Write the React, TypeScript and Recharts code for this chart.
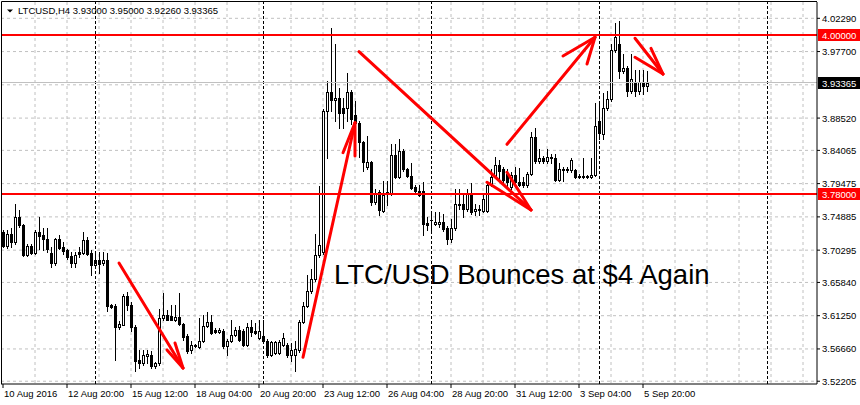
import React from "react";
import { ComposedChart, Bar, XAxis, YAxis, ReferenceLine, CartesianGrid } from "recharts";

// ---- data (LTCUSD H4 candles) ----
const opens = [
  3.7280, 3.7085, 3.7252, 3.7141, 3.7489, 3.7377, 3.6960, 3.7085, 3.6988, 3.7280,
  3.7238, 3.7182, 3.6988, 3.6849, 3.7182, 3.7071, 3.7030, 3.6946, 3.6849, 3.7002,
  3.6988, 3.7169, 3.6988, 3.6821, 3.6891, 3.6849, 3.6891, 3.6279, 3.6265, 3.5973,
  3.6001, 3.6390, 3.6279, 3.5973, 3.5514, 3.5472, 3.5569, 3.5583, 3.5430, 3.5472,
  3.6098, 3.6140, 3.6126, 3.6070, 3.6112, 3.6015, 3.5848, 3.5653, 3.5722, 3.5695,
  3.5778, 3.5987, 3.6042, 3.5931, 3.5904, 3.5917, 3.5708, 3.5778, 3.5862, 3.5931,
  3.5917, 3.5722, 3.5973, 3.5917, 3.5820, 3.5848, 3.5778, 3.5583, 3.5611, 3.5611,
  3.5722, 3.5722, 3.5583, 3.5583, 3.5653, 3.6042, 3.6265, 3.6459, 3.6626, 3.6960,
  3.7002, 3.8949, 3.9213, 3.9102, 3.9130, 3.8991, 3.8991, 3.9213, 3.8894, 3.8782,
  3.8518, 3.8170, 3.8240, 3.7697, 3.7837, 3.7572, 3.7837, 3.7809, 3.8337, 3.8045,
  3.8393, 3.8143, 3.8059, 3.7906, 3.7850, 3.7850, 3.7405, 3.7447, 3.7391, 3.7391,
  3.7419, 3.7336, 3.7182, 3.7336, 3.7670, 3.7670, 3.7600, 3.7809, 3.7572, 3.7600,
  3.7572, 3.7572, 3.7934, 3.8045, 3.8198, 3.8143, 3.8087, 3.7906, 3.8073, 3.7976,
  3.7976, 3.7934, 3.8087, 3.8588, 3.8254, 3.8296, 3.8254, 3.8309, 3.8296, 3.8004,
  3.8156, 3.8129, 3.8129, 3.8129, 3.8059, 3.8059, 3.8059, 3.8045, 3.8073, 3.8810,
  3.8629, 3.8991, 3.9116, 3.9798, 3.9881, 3.9506, 3.9547, 3.9227, 3.9353, 3.9227,
  3.9353, 3.9300,
];
const highs = [
  3.731, 3.731, 3.733, 3.767, 3.758, 3.739, 3.711, 3.712, 3.731, 3.749,
  3.733, 3.733, 3.707, 3.720, 3.724, 3.714, 3.705, 3.700, 3.700, 3.707,
  3.728, 3.721, 3.703, 3.700, 3.700, 3.700, 3.699, 3.629, 3.628, 3.605,
  3.643, 3.645, 3.631, 3.599, 3.565, 3.565, 3.565, 3.564, 3.549, 3.622,
  3.644, 3.620, 3.627, 3.627, 3.644, 3.603, 3.587, 3.578, 3.574, 3.610,
  3.613, 3.617, 3.614, 3.596, 3.596, 3.594, 3.580, 3.606, 3.597, 3.598,
  3.594, 3.602, 3.606, 3.603, 3.606, 3.606, 3.580, 3.578, 3.578, 3.579,
  3.589, 3.575, 3.575, 3.578, 3.606, 3.631, 3.668, 3.677, 3.725, 3.791,
  3.898, 3.937, 4.009, 3.988, 3.927, 3.913, 3.948, 3.924, 3.909, 3.881,
  3.854, 3.860, 3.826, 3.788, 3.786, 3.798, 3.798, 3.849, 3.849, 3.856,
  3.842, 3.816, 3.823, 3.793, 3.793, 3.797, 3.749, 3.756, 3.756, 3.756,
  3.753, 3.736, 3.746, 3.788, 3.788, 3.779, 3.788, 3.795, 3.767, 3.765,
  3.781, 3.795, 3.815, 3.832, 3.828, 3.817, 3.815, 3.811, 3.818, 3.816,
  3.804, 3.811, 3.866, 3.871, 3.843, 3.833, 3.842, 3.835, 3.836, 3.823,
  3.818, 3.818, 3.830, 3.815, 3.808, 3.830, 3.807, 3.830, 3.906, 3.909,
  3.920, 3.923, 3.988, 4.016, 4.019, 3.974, 3.957, 3.974, 3.951, 3.951,
  3.951, 3.9500,
];
const lows = [
  3.707, 3.706, 3.707, 3.711, 3.735, 3.695, 3.695, 3.697, 3.697, 3.704,
  3.703, 3.700, 3.680, 3.683, 3.704, 3.697, 3.691, 3.680, 3.680, 3.693,
  3.697, 3.696, 3.668, 3.680, 3.672, 3.683, 3.619, 3.623, 3.5514, 3.594,
  3.599, 3.620, 3.592, 3.5361, 3.540, 3.545, 3.547, 3.540, 3.540, 3.545,
  3.606, 3.606, 3.606, 3.605, 3.600, 3.579, 3.561, 3.561, 3.569, 3.568,
  3.576, 3.597, 3.587, 3.588, 3.589, 3.568, 3.5583, 3.576, 3.585, 3.578,
  3.571, 3.571, 3.585, 3.587, 3.580, 3.576, 3.556, 3.557, 3.560, 3.560,
  3.570, 3.556, 3.550, 3.5361, 3.563, 3.602, 3.624, 3.644, 3.660, 3.694,
  3.698, 3.830, 3.895, 3.881, 3.871, 3.871, 3.881, 3.877, 3.876, 3.832,
  3.812, 3.815, 3.765, 3.767, 3.7517, 3.755, 3.765, 3.779, 3.802, 3.802,
  3.812, 3.804, 3.787, 3.783, 3.777, 3.7238, 3.731, 3.728, 3.737, 3.735,
  3.730, 3.7113, 3.714, 3.731, 3.760, 3.749, 3.757, 3.753, 3.752, 3.752,
  3.755, 3.755, 3.791, 3.802, 3.802, 3.793, 3.790, 3.788, 3.790, 3.791,
  3.790, 3.790, 3.806, 3.823, 3.823, 3.823, 3.823, 3.823, 3.798, 3.798,
  3.798, 3.811, 3.811, 3.803, 3.803, 3.803, 3.803, 3.803, 3.805, 3.857,
  3.857, 3.897, 3.909, 3.977, 3.941, 3.947, 3.916, 3.920, 3.915, 3.919,
  3.919, 3.9226,
];
const closes = [
  3.7085, 3.7252, 3.7141, 3.7489, 3.7377, 3.6960, 3.7085, 3.6988, 3.7280, 3.7224,
  3.7182, 3.7044, 3.6849, 3.7182, 3.7057, 3.7016, 3.6932, 3.6849, 3.6960, 3.6974,
  3.7169, 3.6974, 3.6821, 3.6891, 3.6835, 3.6891, 3.6265, 3.6251, 3.5973, 3.6015,
  3.6390, 3.6279, 3.5973, 3.5500, 3.5472, 3.5583, 3.5597, 3.5430, 3.5472, 3.6098,
  3.6140, 3.6070, 3.6070, 3.6112, 3.6015, 3.5834, 3.5639, 3.5722, 3.5708, 3.5778,
  3.5987, 3.6042, 3.5890, 3.5904, 3.5931, 3.5708, 3.5778, 3.5862, 3.5931, 3.5792,
  3.5722, 3.5973, 3.5904, 3.5890, 3.5917, 3.5778, 3.5583, 3.5764, 3.5764, 3.5764,
  3.5820, 3.5583, 3.5653, 3.5667, 3.6042, 3.6265, 3.6459, 3.6626, 3.6960, 3.7099,
  3.8949, 3.9213, 3.9102, 3.9130, 3.8921, 3.8921, 3.9213, 3.8838, 3.8782, 3.8518,
  3.8240, 3.8240, 3.7697, 3.7823, 3.7586, 3.7795, 3.7830, 3.8337, 3.8045, 3.8393,
  3.8143, 3.8059, 3.7892, 3.7850, 3.7795, 3.7391, 3.7377, 3.7440, 3.7419, 3.7419,
  3.7322, 3.7182, 3.7336, 3.7670, 3.7656, 3.7600, 3.7809, 3.7558, 3.7600, 3.7586,
  3.7739, 3.7934, 3.8045, 3.8198, 3.8115, 3.8004, 3.7976, 3.8073, 3.7976, 3.7934,
  3.7934, 3.8087, 3.8588, 3.8254, 3.8296, 3.8254, 3.8309, 3.8296, 3.8004, 3.8156,
  3.8129, 3.8156, 3.8268, 3.8045, 3.8045, 3.8045, 3.8045, 3.8073, 3.8741, 3.8643,
  3.8991, 3.9116, 3.9798, 3.9965, 3.9506, 3.9547, 3.9227, 3.9394, 3.9227, 3.9353,
  3.9297, 3.93365,
];

const xTickIndex = [0, 16, 32, 48, 64, 80, 96, 112, 128, 144, 160];
const xTickLabels = [
  "10 Aug 2016", "12 Aug 20:00", "15 Aug 12:00", "18 Aug 04:00", "20 Aug 20:00",
  "23 Aug 12:00", "26 Aug 04:00", "28 Aug 20:00", "31 Aug 12:00", "3 Sep 04:00", "5 Sep 20:00",
];
const xGridIndex = [
  8, 16, 24, 32, 40, 48, 56, 64, 72, 80, 88, 96, 104, 112, 120, 128, 136, 144,
  152, 160, 168, 176, 184, 192, 200,
];
const yTickValues = [4.0229, 3.977, 3.8852, 3.84065, 3.79475, 3.74885, 3.70295, 3.6584, 3.6125, 3.5666, 3.52205];
const yGridValues = [4.0229, 3.977, 3.9311, 3.8852, 3.84065, 3.79475, 3.74885, 3.70295, 3.6584, 3.6125, 3.5666, 3.52205];
const weekSeparators = [23, 65, 107, 149, 191];
const resistanceLevel = 4.0;
const supportLevel = 3.78;
const lastPrice = 3.93365;
const headerSymbol = "LTCUSD,H4";
const headerOHLC = ["3.93000", "3.95000", "3.92260", "3.93365"];
const titleText = "LTC/USD Bounces at $4 Again";

// hand-drawn arrows in chart coordinates: [bar index, price]
const arrows = [
  { from: [29, 3.6852], to: [45, 3.5403], barbs: [[41, 3.5652], [43, 3.5748]] },
  { from: [75, 3.5551], to: [88, 3.8788], barbs: [[85, 3.8374], [88, 3.8329]] },
  { from: [89, 3.9768], to: [132, 3.7584], barbs: [[121, 3.7966], [126, 3.8104]] },
  { from: [126, 3.849], to: [148, 3.9967], barbs: [[140, 3.9709], [146, 3.9598]] },
  { from: [158, 3.9953], to: [165, 3.946], barbs: [[162, 3.9815], [158, 3.9691]] },
];

const SLOT_COUNT = 204;
const Y_DOMAIN: [number, number] = [3.51823, 4.04539];

const rows = Array.from({ length: SLOT_COUNT }, (_, i) =>
  i < opens.length
    ? { i, o: opens[i], h: highs[i], l: lows[i], c: closes[i], range: [lows[i], highs[i]] }
    : { i }
);

const FONT = "'Liberation Sans', Arial, sans-serif";
const GRID = "#c0c0c0";

const Candle = (props: any) => {
  const { x, y, width, height, payload } = props;
  if (!payload || payload.o == null || x == null || y == null) return <g />;
  const { o, h, l, c } = payload;
  const cx = Math.floor(x + width / 2) + 0.5;
  const span = h - l;
  const py = (p: number) => (span > 0 ? y + ((h - p) / span) * height : y);
  const yHi = Math.round(y);
  const yLo = Math.round(y + height);
  const bTop = Math.round(py(Math.max(o, c)));
  const bBot = Math.round(py(Math.min(o, c)));
  const bull = c >= o;
  return (
    <g>
      <line x1={cx} x2={cx} y1={yHi} y2={yLo + 1} stroke="#000" strokeWidth={1} />
      {bBot - bTop < 1 ? (
        <line x1={cx - 1.5} x2={cx + 1.5} y1={bTop + 0.5} y2={bTop + 0.5} stroke="#000" strokeWidth={1} />
      ) : (
        <rect x={cx - 1} y={bTop + 0.5} width={2} height={bBot - bTop} fill={bull ? "#fff" : "#000"} stroke="#000" strokeWidth={1} />
      )}
    </g>
  );
};

const crisp = (stroke: string, width: number, dash?: string) => (p: any) => {
  const { x1, y1, x2, y2 } = p;
  if (x1 == null) return <g />;
  const snap = (v: number) => (width % 2 === 1 ? Math.floor(v) + 0.5 : Math.round(v));
  const vertical = Math.abs(x1 - x2) < 0.01;
  const horizontal = Math.abs(y1 - y2) < 0.01;
  return (
    <line
      x1={vertical ? snap(x1) : x1}
      x2={vertical ? snap(x2) : x2}
      y1={horizontal ? snap(y1) : y1}
      y2={horizontal ? snap(y2) : y2}
      stroke={stroke}
      strokeWidth={width}
      strokeDasharray={dash}
    />
  );
};

const XTick = (props: any) => {
  const { x, y, payload } = props;
  const k = xTickIndex.indexOf(payload.value);
  return (
    <text x={x + 1} y={y} dy="0.72em" fontSize={9.5} fontFamily={FONT} fill="#000" textAnchor="start">
      {k >= 0 ? xTickLabels[k] : ""}
    </text>
  );
};

const YTick = (props: any) => {
  const { x, y, payload } = props;
  return (
    <text x={x} y={y} dy={3.5} fontSize={9.5} fontFamily={FONT} fill="#000" textAnchor="start">
      {Number(payload.value).toFixed(5)}
    </text>
  );
};

const priceTag = (text: string, bg: string) => (p: any) => {
  const vb = p.viewBox;
  if (!vb) return <g />;
  const right = vb.x + vb.width;
  const yy = Math.round(vb.y);
  return (
    <g>
      <rect x={right + 1} y={yy - 6} width={43} height={12} fill={bg} />
      <text x={right + 5} y={yy} dy={3.5} fontSize={9.5} fontFamily={FONT} fill="#fff" textAnchor="start">
        {text}
      </text>
    </g>
  );
};

export default function App() {
  return (
    <div style={{ position: "absolute", left: 0, top: 0, width: 860, height: 405, background: "#fff", overflow: "hidden" }}>
      <ComposedChart
        width={860}
        height={405}
        data={rows}
        margin={{ top: 2, right: 0, bottom: 0, left: 1 }}
      >
        <CartesianGrid
          stroke={GRID}
          strokeDasharray="3 3"
          horizontalValues={yGridValues}
          verticalValues={xGridIndex}
        />
        <XAxis
          dataKey="i"
          type="category"
          ticks={xTickIndex}
          interval={0}
          height={21}
          tickSize={4}
          tick={<XTick />}
          axisLine={{ stroke: "#000" }}
          tickLine={{ stroke: "#000" }}
        />
        <YAxis
          orientation="right"
          type="number"
          domain={Y_DOMAIN}
          allowDataOverflow
          ticks={yTickValues}
          interval={0}
          width={43}
          tickSize={3}
          tick={<YTick />}
          axisLine={{ stroke: "#000" }}
          tickLine={{ stroke: "#000" }}
        />
        {weekSeparators.map((s) => (
          <ReferenceLine key={"sep" + s} x={s} shape={crisp("#000", 1, "3 2")} stroke="#000" strokeDasharray="3 2" />
        ))}
        <ReferenceLine y={lastPrice} shape={crisp(GRID, 1)} stroke={GRID} label={priceTag(lastPrice.toFixed(5), "#000")} />
        <Bar dataKey="range" barSize={3} shape={<Candle />} isAnimationActive={false} />
        <ReferenceLine y={resistanceLevel} shape={crisp("#ff0000", 2)} stroke="#ff0000" strokeWidth={2} label={priceTag(resistanceLevel.toFixed(5), "#ff0000")} />
        <ReferenceLine y={supportLevel} shape={crisp("#ff0000", 2)} stroke="#ff0000" strokeWidth={2} label={priceTag(supportLevel.toFixed(5), "#ff0000")} />
        {arrows.map((a, k) => (
          <ReferenceLine
            key={"shaft" + k}
            segment={[{ x: a.from[0], y: a.from[1] }, { x: a.to[0], y: a.to[1] }]}
            stroke="#ff0000"
            strokeWidth={3}
            strokeLinecap="round"
          />
        ))}
        {arrows.flatMap((a, k) =>
          a.barbs.map((b, j) => (
            <ReferenceLine
              key={"barb" + k + "-" + j}
              segment={[{ x: b[0], y: b[1] }, { x: a.to[0], y: a.to[1] }]}
              stroke="#ff0000"
              strokeWidth={3}
              strokeLinecap="round"
            />
          ))
        )}
      </ComposedChart>
      <svg width={860} height={405} style={{ position: "absolute", left: 0, top: 0, pointerEvents: "none" }}>
        <line x1={1.5} y1={1.5} x2={817} y2={1.5} stroke="#000" />
        <line x1={1.5} y1={1.5} x2={1.5} y2={384} stroke="#000" />
        <polygon points="7,9.5 13,9.5 10,12.5" fill="#000" />
        <text x={18} y={14} fontSize={9.5} fontFamily={FONT} fill="#000">
          {headerSymbol + "  " + headerOHLC.join(" ")}
        </text>
        <text x={334} y={283.5} fontSize={27.5} fontFamily={FONT} fill="#000">
          {titleText}
        </text>
      </svg>
    </div>
  );
}
